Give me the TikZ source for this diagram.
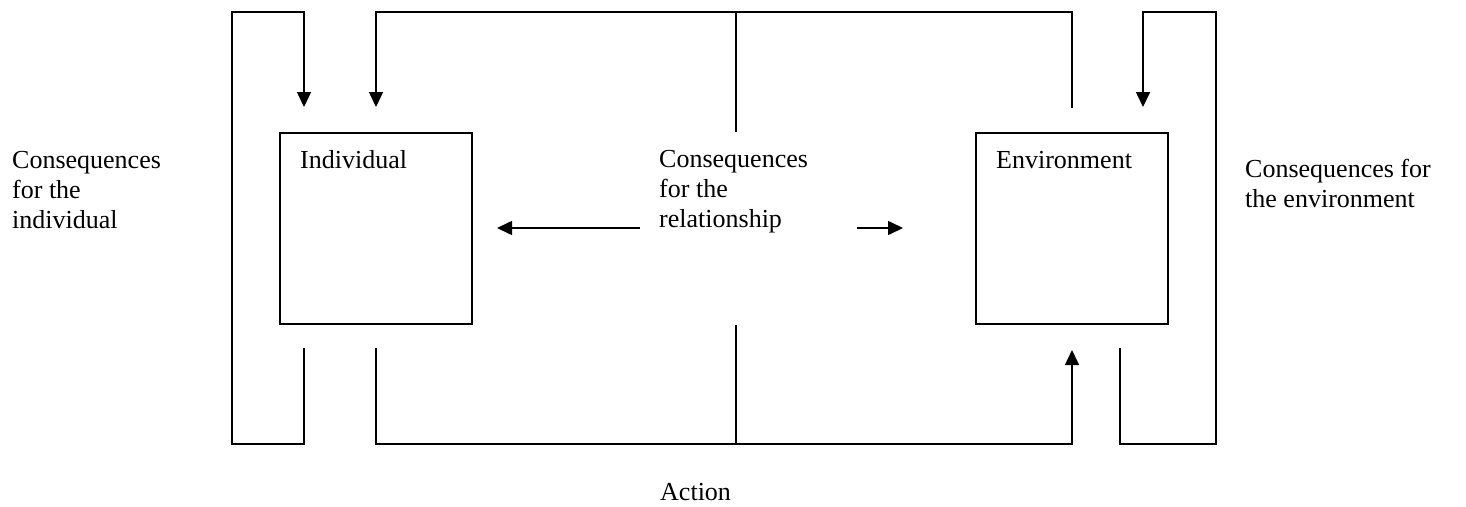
\documentclass[tikz,border=0pt]{standalone}
\usepackage{fontspec}
\setmainfont{Liberation Serif}
\usetikzlibrary{arrows.meta}
\begin{document}
\begin{tikzpicture}[x=1pt,y=-1pt,
  line/.style={line width=1.6pt},
  arr/.style={line width=1.6pt,-{Triangle[width=14pt,length=15pt]}},
  box/.style={draw,line width=1.6pt,rectangle,minimum width=192pt,minimum height=191pt,inner sep=0pt},
  lbl/.style={anchor=north west,inner sep=0pt,align=left,font=\fontsize{26}{30}\selectfont}]
\useasboundingbox (0,0) rectangle (1466,506);
% boxes
\node[box] (ind) at (376,228.5) {};
\node[box] (env) at (1072,228.5) {};
% labels
\node[lbl] (tind) at (300,147) {\strut Individual};
\node[lbl] (tenv) at (996,147) {\strut Environment};
\node[lbl] (cind) at (12,147) {\strut Consequences\\for the\\individual};
\node[lbl] (crel) at (659,146) {\strut Consequences\\for the\\relationship};
\node[lbl] (cenv) at (1245,156) {\strut Consequences for\\the environment};
\node[lbl] (act) at (660,479) {\strut Action};
% coordinates
\coordinate (la) at (304,107);
\coordinate (lb) at (304,348);
\coordinate (ta) at (376,107);
\coordinate (tb) at (1072,108);
\coordinate (tc) at (736,12);
\coordinate (td) at (736,132);
\coordinate (ba) at (376,348);
\coordinate (bb) at (1072,350);
\coordinate (bc) at (736,325);
\coordinate (bd) at (736,444);
\coordinate (ra) at (1143,107);
\coordinate (rb) at (1120,348);
\coordinate (ha) at (640,228);
\coordinate (hb) at (497,228);
\coordinate (hc) at (857,228);
\coordinate (hd) at (903,228);
% left loop
\draw[arr] (lb) -- (304,444) -- (232,444) -- (232,12) -- (304,12) -- (la);
% top
\draw[arr] (tb) -- (1072,12) -- (376,12) -- (ta);
\draw[line] (tc) -- (td);
% bottom
\draw[arr] (ba) -- (376,444) -- (1072,444) -- (bb);
\draw[line] (bc) -- (bd);
% right loop
\draw[arr] (rb) -- (1120,444) -- (1216,444) -- (1216,12) -- (1143,12) -- (ra);
% horizontal arrows
\draw[arr] (ha) -- (hb);
\draw[arr] (hc) -- (hd);
\end{tikzpicture}
\end{document}
